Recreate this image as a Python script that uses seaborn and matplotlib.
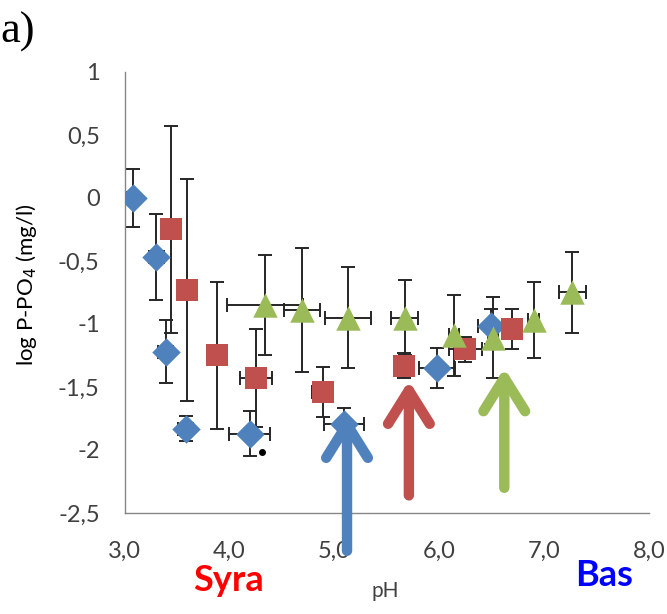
import numpy as np
import pandas as pd
from matplotlib import pyplot as plt
from matplotlib.ticker import FuncFormatter
import seaborn as sns

# blue diamonds
blue_ph = [3.08, 3.30, 3.39, 3.58, 4.19, 5.09, 5.98, 6.49]
blue_p = [0.00, -0.47, -1.22, -1.83, -1.87, -1.79, -1.35, -1.02]
blue_yerr = [0.23, 0.34, 0.25, 0.10, 0.18, 0.12, 0.16, 0.14]
blue_xerr = [0.06, 0.07, 0.07, 0.07, 0.20, 0.19, 0.17, 0.12]

# red squares
red_ph = [3.44, 3.59, 3.88, 4.25, 4.89, 5.66, 6.25, 6.69]
red_p = [-0.25, -0.73, -1.25, -1.43, -1.54, -1.33, -1.20, -1.04]
red_yerr = [0.82, 0.88, 0.58, 0.39, 0.20, 0.10, 0.10, 0.16]
red_xerr = [0.03, 0.03, 0.03, 0.15, 0.10, 0.05, 0.16, 0.05]

# green triangles
green_ph = [4.34, 4.69, 5.13, 5.67, 6.14, 6.51, 6.90, 7.27]
green_p = [-0.85, -0.89, -0.95, -0.95, -1.09, -1.11, -0.97, -0.75]
green_yerr = [0.40, 0.49, 0.40, 0.30, 0.32, 0.32, 0.30, 0.32]
green_xerr = [0.36, 0.17, 0.22, 0.13, 0.05, 0.05, 0.05, 0.13]

# arrows: (pH, tail, tip)
arrow_ph = [5.12, 5.71, 6.62]
arrow_tail = [-2.80, -2.36, -2.30]
arrow_tip = [-1.72, -1.45, -1.35]

colors = {'blue': '#4f81bd', 'red': '#c0504d', 'green': '#9bbb59'}
markers = {'blue': 'D', 'red': 's', 'green': '^'}
sizes = {'blue': 210, 'red': 270, 'green': 310}

df = pd.DataFrame({
    'pH': blue_ph + red_ph + green_ph,
    'logP': blue_p + red_p + green_p,
    'xerr': blue_xerr + red_xerr + green_xerr,
    'yerr': blue_yerr + red_yerr + green_yerr,
    'serie': ['blue'] * 8 + ['red'] * 8 + ['green'] * 8,
})

sns.set_style('white')
plt.rcParams['font.family'] = ['Lato', 'DejaVu Sans']
fig = plt.figure(figsize=(6.67, 6.14), dpi=100)
ax = fig.add_axes([0.187, 0.1645, 0.786, 0.7185])

ax.errorbar(df.pH, df.logP, xerr=df.xerr, yerr=df.yerr, fmt='none',
            ecolor='#262626', elinewidth=1.4, capsize=5, capthick=1.4, zorder=2)

for name in ['blue', 'red', 'green']:
    sub = df[df.serie == name]
    sns.scatterplot(data=sub, x='pH', y='logP', color=colors[name],
                    marker=markers[name], s=sizes[name], linewidth=0,
                    ax=ax, zorder=3, legend=False)

# small stray dot
ax.plot([4.31], [-2.02], 'o', color='black', ms=4, zorder=3)

for c, x, t0, t1 in zip(['blue', 'red', 'green'], arrow_ph, arrow_tail, arrow_tip):
    ax.annotate('', xy=(x, t1), xytext=(x, t0), annotation_clip=False,
                arrowprops=dict(arrowstyle='->,head_length=1.2,head_width=0.75',
                                lw=7.5, color=colors[c], mutation_scale=20,
                                capstyle='round', joinstyle='round',
                                shrinkA=0, shrinkB=0), zorder=4)

ax.set_xlim(3, 8)
ax.set_ylim(-2.5, 1)
ax.set_xticks(np.arange(3, 8.01, 1))
ax.set_yticks(np.arange(-2.5, 1.01, 0.5))
ax.xaxis.set_major_formatter(FuncFormatter(lambda v, p: f'{v:.1f}'.replace('.', ',')))
ax.yaxis.set_major_formatter(FuncFormatter(
    lambda v, p: ('%g' % round(v, 1)).replace('.', ',')))
ax.tick_params(axis='both', direction='out', length=7, width=1,
               color='#868686', labelcolor='#404040', labelsize=17)
ax.tick_params(axis='x', pad=13)
ax.tick_params(axis='y', pad=11)
for s in ['top', 'right']:
    ax.spines[s].set_visible(False)
for s in ['left', 'bottom']:
    ax.spines[s].set_color('#868686')
    ax.spines[s].set_linewidth(1)

ax.set_xlabel('')
ax.set_ylabel('log P-PO$_4$ (mg/l)', fontsize=16, color='black')
ax.yaxis.set_label_coords(-0.163, 0.517)

fig.text(0.578, 0.038, 'pH', fontsize=15, color='#404040', ha='center', va='center')
fig.text(0.342, 0.055, 'Syra', fontsize=26, fontweight='bold', color='#ff0000',
         ha='center', va='center')
fig.text(0.905, 0.063, 'Bas', fontsize=26, fontweight='bold', color='#0000ff',
         ha='center', va='center')
fig.text(0.0, 0.948, 'a)', fontsize=32, family='Liberation Serif',
         color='black', ha='left', va='center')

fig.savefig('out.png', dpi=100)
